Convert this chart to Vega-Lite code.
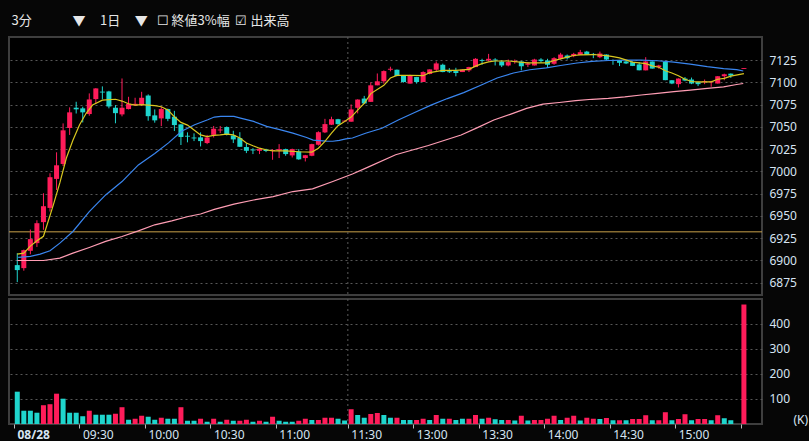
{
  "$schema": "https://vega.github.io/schema/vega-lite/v6.json",
  "background": "#060606",
  "padding": {"left": 7, "top": 14, "right": 0, "bottom": 0},
  "title": {
    "text": "3分\u00a0\u00a0\u00a0\u00a0\u00a0\u00a0\u00a0\u00a0\u00a0\u00a0\u00a0\u00a0\u00a0\u00a0▼\u00a0\u00a0\u00a0\u00a0\u00a01日\u00a0\u00a0\u00a0\u00a0\u00a0▼\u00a0\u00a0\u00a0☐ 終値3%幅\u00a0\u00a0☑ 出来高",
    "anchor": "start", "font": "Noto Sans CJK JP", "fontSize": 13, "fontWeight": "normal",
    "color": "#e6e6e6", "offset": 8, "dx": 4
  },
  "datasets": {
    "candles": [
      {"s":0,"o":6894.6,"h":6908,"l":6875.5,"c":6889,"v":129,"vd":"d"},
      {"s":1,"o":6891.2,"h":6912,"l":6888.3,"c":6911.4,"v":53,"vd":"d"},
      {"s":2,"o":6910.7,"h":6934.6,"l":6906.8,"c":6923.8,"v":53,"vd":"d"},
      {"s":3,"o":6919.3,"h":6945,"l":6915,"c":6941.7,"v":45,"vd":"d"},
      {"s":4,"o":6942.9,"h":6975.4,"l":6934.3,"c":6960.8,"v":75,"vd":"u"},
      {"s":5,"o":6958.9,"h":6997.8,"l":6954.8,"c":6993.4,"v":79,"vd":"u"},
      {"s":6,"o":6991.5,"h":7021.4,"l":6979,"c":7006.8,"v":121,"vd":"u"},
      {"s":7,"o":7008.3,"h":7053.9,"l":7006,"c":7046.1,"v":101,"vd":"d"},
      {"s":8,"o":7048.7,"h":7071.9,"l":7040.9,"c":7066.3,"v":45,"vd":"d"},
      {"s":9,"o":7071.5,"h":7078.2,"l":7065,"c":7069.7,"v":45,"vd":"d"},
      {"s":10,"o":7070.8,"h":7072.6,"l":7055,"c":7066.3,"v":31,"vd":"d"},
      {"s":11,"o":7064.4,"h":7087.6,"l":7062.5,"c":7080.8,"v":53,"vd":"u"},
      {"s":12,"o":7081.2,"h":7093.5,"l":7076,"c":7093.2,"v":37,"vd":"d"},
      {"s":13,"o":7089.6,"h":7095.5,"l":7081,"c":7088.6,"v":37,"vd":"d"},
      {"s":14,"o":7089.8,"h":7090.5,"l":7070.8,"c":7072.9,"v":37,"vd":"d"},
      {"s":15,"o":7071.5,"h":7074.5,"l":7054,"c":7065.4,"v":41,"vd":"u"},
      {"s":16,"o":7064,"h":7104.4,"l":7061.8,"c":7071.5,"v":67,"vd":"u"},
      {"s":17,"o":7070,"h":7083.8,"l":7069.6,"c":7075.9,"v":17,"vd":"d"},
      {"s":18,"o":7074.1,"h":7082.7,"l":7073.4,"c":7075.9,"v":21,"vd":"u"},
      {"s":19,"o":7074.5,"h":7089.4,"l":7073.4,"c":7082.7,"v":33,"vd":"u"},
      {"s":20,"o":7085.2,"h":7086.5,"l":7056.9,"c":7062,"v":29,"vd":"d"},
      {"s":21,"o":7062.9,"h":7069.6,"l":7054.7,"c":7057.3,"v":17,"vd":"d"},
      {"s":22,"o":7059.5,"h":7072.6,"l":7050.8,"c":7070,"v":25,"vd":"u"},
      {"s":23,"o":7070,"h":7070.5,"l":7056.4,"c":7059,"v":21,"vd":"d"},
      {"s":24,"o":7061.4,"h":7068,"l":7045.3,"c":7052,"v":21,"vd":"d"},
      {"s":25,"o":7052.8,"h":7053,"l":7029.6,"c":7038.6,"v":67,"vd":"u"},
      {"s":26,"o":7040,"h":7043.8,"l":7032.6,"c":7039,"v":13,"vd":"d"},
      {"s":27,"o":7038,"h":7042.7,"l":7034,"c":7037,"v":13,"vd":"d"},
      {"s":28,"o":7038.2,"h":7043.8,"l":7028,"c":7034,"v":21,"vd":"u"},
      {"s":29,"o":7031.8,"h":7041,"l":7030.6,"c":7038.1,"v":9,"vd":"d"},
      {"s":30,"o":7041,"h":7051,"l":7038,"c":7047.9,"v":21,"vd":"u"},
      {"s":31,"o":7046,"h":7051,"l":7043,"c":7047,"v":9,"vd":"d"},
      {"s":32,"o":7049.8,"h":7050.5,"l":7040.4,"c":7041.9,"v":17,"vd":"u"},
      {"s":33,"o":7040.4,"h":7045.6,"l":7031.8,"c":7035.9,"v":13,"vd":"d"},
      {"s":34,"o":7037.4,"h":7044,"l":7027.4,"c":7027.6,"v":13,"vd":"u"},
      {"s":35,"o":7027.3,"h":7031.8,"l":7020.5,"c":7023.1,"v":17,"vd":"u"},
      {"s":36,"o":7024.5,"h":7026,"l":7019.4,"c":7023.5,"v":9,"vd":"d"},
      {"s":37,"o":7023.1,"h":7026,"l":7019.4,"c":7025.4,"v":13,"vd":"u"},
      {"s":38,"o":7024.6,"h":7025.4,"l":7021.6,"c":7022.8,"v":9,"vd":"d"},
      {"s":39,"o":7023,"h":7025,"l":7013,"c":7024,"v":29,"vd":"u"},
      {"s":40,"o":7023.5,"h":7030.6,"l":7014.9,"c":7025,"v":13,"vd":"d"},
      {"s":41,"o":7025,"h":7025.5,"l":7017.5,"c":7019.4,"v":9,"vd":"d"},
      {"s":42,"o":7017.9,"h":7025.5,"l":7015.6,"c":7025,"v":9,"vd":"d"},
      {"s":43,"o":7022.4,"h":7025,"l":7013,"c":7013.5,"v":13,"vd":"u"},
      {"s":44,"o":7014.9,"h":7018.5,"l":7011.1,"c":7018.1,"v":21,"vd":"u"},
      {"s":45,"o":7017.5,"h":7031,"l":7017,"c":7030.6,"v":16,"vd":"d"},
      {"s":46,"o":7029.9,"h":7045,"l":7029,"c":7044,"v":16,"vd":"u"},
      {"s":47,"o":7043.8,"h":7059,"l":7043,"c":7053.1,"v":25,"vd":"u"},
      {"s":48,"o":7052.4,"h":7061.4,"l":7052,"c":7058.6,"v":25,"vd":"u"},
      {"s":49,"o":7058.6,"h":7059,"l":7052.4,"c":7053.1,"v":21,"vd":"d"},
      {"s":50,"o":7056,"h":7057,"l":7056,"c":7057,"v":14,"vd":"d"},
      {"s":51,"o":7055.8,"h":7075.2,"l":7055.8,"c":7069.6,"v":59,"vd":"u"},
      {"s":52,"o":7071.4,"h":7081,"l":7065.1,"c":7080.7,"v":36,"vd":"d"},
      {"s":53,"o":7081.8,"h":7084.8,"l":7076,"c":7076.3,"v":25,"vd":"d"},
      {"s":54,"o":7078.1,"h":7100,"l":7078,"c":7096.7,"v":40,"vd":"u"},
      {"s":55,"o":7096.7,"h":7110,"l":7096.7,"c":7101.2,"v":44,"vd":"u"},
      {"s":56,"o":7101.2,"h":7113.5,"l":7098.6,"c":7112.7,"v":36,"vd":"d"},
      {"s":57,"o":7114.2,"h":7117.6,"l":7112.4,"c":7115.3,"v":25,"vd":"d"},
      {"s":58,"o":7114.2,"h":7114.5,"l":7107,"c":7107.1,"v":25,"vd":"u"},
      {"s":59,"o":7107.9,"h":7108,"l":7099.7,"c":7100.4,"v":16,"vd":"d"},
      {"s":60,"o":7098.6,"h":7108.6,"l":7098.6,"c":7107.9,"v":16,"vd":"d"},
      {"s":61,"o":7106,"h":7106.2,"l":7098.6,"c":7100.4,"v":16,"vd":"u"},
      {"s":62,"o":7100.4,"h":7112.4,"l":7100.4,"c":7111.6,"v":21,"vd":"u"},
      {"s":63,"o":7109.4,"h":7114.6,"l":7109,"c":7114.6,"v":16,"vd":"d"},
      {"s":64,"o":7114.2,"h":7123.5,"l":7111.6,"c":7121.3,"v":36,"vd":"u"},
      {"s":65,"o":7119.8,"h":7121,"l":7111.4,"c":7111.6,"v":21,"vd":"d"},
      {"s":66,"o":7112.5,"h":7116,"l":7110.5,"c":7111.5,"v":21,"vd":"u"},
      {"s":67,"o":7112.7,"h":7116.4,"l":7106.8,"c":7110.5,"v":16,"vd":"d"},
      {"s":68,"o":7111.6,"h":7114.5,"l":7111.6,"c":7114.2,"v":21,"vd":"d"},
      {"s":69,"o":7113.5,"h":7117.5,"l":7111.6,"c":7117.2,"v":21,"vd":"u"},
      {"s":70,"o":7117.2,"h":7127.2,"l":7117.2,"c":7126.5,"v":36,"vd":"u"},
      {"s":71,"o":7125,"h":7126.5,"l":7119.8,"c":7124,"v":21,"vd":"d"},
      {"s":72,"o":7124.6,"h":7132,"l":7123.5,"c":7126.5,"v":25,"vd":"u"},
      {"s":73,"o":7125.7,"h":7127.2,"l":7119,"c":7124.6,"v":19,"vd":"d"},
      {"s":74,"o":7123.5,"h":7124.6,"l":7117.2,"c":7119,"v":16,"vd":"d"},
      {"s":75,"o":7119,"h":7125.7,"l":7118,"c":7122.8,"v":16,"vd":"u"},
      {"s":76,"o":7122.8,"h":7125.7,"l":7121,"c":7124.3,"v":14,"vd":"d"},
      {"s":77,"o":7123.5,"h":7123.8,"l":7113.5,"c":7118,"v":33,"vd":"u"},
      {"s":78,"o":7119.8,"h":7122.8,"l":7117.2,"c":7121.3,"v":14,"vd":"d"},
      {"s":79,"o":7119,"h":7126.5,"l":7119,"c":7125.7,"v":16,"vd":"u"},
      {"s":80,"o":7125.7,"h":7127.2,"l":7122,"c":7123.9,"v":16,"vd":"u"},
      {"s":81,"o":7124.6,"h":7126.5,"l":7117.2,"c":7119.8,"v":21,"vd":"u"},
      {"s":82,"o":7120.9,"h":7128.3,"l":7119.8,"c":7127.2,"v":33,"vd":"u"},
      {"s":83,"o":7126.5,"h":7133.2,"l":7125.7,"c":7131.3,"v":16,"vd":"d"},
      {"s":84,"o":7130.2,"h":7131.3,"l":7125.7,"c":7127.2,"v":25,"vd":"u"},
      {"s":85,"o":7129.5,"h":7133.2,"l":7128.3,"c":7132,"v":33,"vd":"u"},
      {"s":86,"o":7130.9,"h":7136.5,"l":7130.9,"c":7133.9,"v":14,"vd":"d"},
      {"s":87,"o":7134.6,"h":7135.4,"l":7130.9,"c":7131,"v":25,"vd":"u"},
      {"s":88,"o":7132,"h":7133.1,"l":7127.2,"c":7130.9,"v":21,"vd":"u"},
      {"s":89,"o":7128.3,"h":7134.6,"l":7127.2,"c":7132.4,"v":20,"vd":"d"},
      {"s":90,"o":7131.3,"h":7131.5,"l":7125,"c":7125.7,"v":24,"vd":"u"},
      {"s":91,"o":7125,"h":7125.7,"l":7119.8,"c":7124,"v":15,"vd":"d"},
      {"s":92,"o":7125,"h":7125.2,"l":7118.3,"c":7122,"v":15,"vd":"u"},
      {"s":93,"o":7123.5,"h":7124.3,"l":7120.6,"c":7121.3,"v":15,"vd":"d"},
      {"s":94,"o":7122.8,"h":7123.5,"l":7118.3,"c":7118.5,"v":20,"vd":"u"},
      {"s":95,"o":7120.2,"h":7122.8,"l":7113.5,"c":7113.6,"v":20,"vd":"u"},
      {"s":96,"o":7113.5,"h":7128.3,"l":7113.5,"c":7123.5,"v":35,"vd":"u"},
      {"s":97,"o":7123.5,"h":7123.6,"l":7115.4,"c":7115.5,"v":15,"vd":"d"},
      {"s":98,"o":7117.2,"h":7119.8,"l":7115.4,"c":7119,"v":15,"vd":"u"},
      {"s":99,"o":7123,"h":7124.5,"l":7102.4,"c":7102.5,"v":47,"vd":"u"},
      {"s":100,"o":7102.4,"h":7102.5,"l":7098,"c":7098.7,"v":15,"vd":"d"},
      {"s":101,"o":7098,"h":7104.5,"l":7094.3,"c":7104.3,"v":20,"vd":"u"},
      {"s":102,"o":7104.3,"h":7106,"l":7101.3,"c":7102,"v":39,"vd":"u"},
      {"s":103,"o":7103.2,"h":7105.4,"l":7098,"c":7098.7,"v":15,"vd":"d"},
      {"s":104,"o":7100.2,"h":7100.6,"l":7095.8,"c":7098,"v":20,"vd":"u"},
      {"s":105,"o":7100.2,"h":7103.2,"l":7098,"c":7101.3,"v":20,"vd":"u"},
      {"s":106,"o":7100,"h":7101.7,"l":7095,"c":7101,"v":15,"vd":"d"},
      {"s":107,"o":7098.7,"h":7107,"l":7098.7,"c":7106.9,"v":35,"vd":"u"},
      {"s":108,"o":7106.9,"h":7109.8,"l":7102.4,"c":7109.1,"v":23,"vd":"d"},
      {"s":109,"o":7109.8,"h":7110,"l":7105,"c":7107.6,"v":15,"vd":"d"},
      {"s":111,"o":7115,"h":7116,"l":7115,"c":7116,"v":477,"vd":"u"}
    ],
    "ma": [
      {"m":"p","s":0,"v":6899.8},{"m":"p","s":4,"v":6899.8},{"m":"p","s":6.5,"v":6902.5},{"m":"p","s":8.5,"v":6908},
      {"m":"p","s":11,"v":6914.4},{"m":"p","s":13.5,"v":6921.2},{"m":"p","s":16,"v":6926.8},{"m":"p","s":18.5,"v":6933.1},
      {"m":"p","s":21,"v":6939.9},{"m":"p","s":23.6,"v":6944.4},{"m":"p","s":26.1,"v":6949.2},{"m":"p","s":28,"v":6952},
      {"m":"p","s":30.1,"v":6957.2},{"m":"p","s":33.1,"v":6963.2},{"m":"p","s":36.1,"v":6967.8},{"m":"p","s":39.1,"v":6971.6},
      {"m":"p","s":42.1,"v":6977.3},{"m":"p","s":45.1,"v":6980.3},{"m":"p","s":48.2,"v":6988.6},{"m":"p","s":51.2,"v":6997},
      {"m":"p","s":53.5,"v":7004.5},{"m":"p","s":57.8,"v":7018.6},{"m":"p","s":62.8,"v":7029},{"m":"p","s":67.8,"v":7040.9},
      {"m":"p","s":70.3,"v":7049.1},{"m":"p","s":72.8,"v":7057.7},{"m":"p","s":75.3,"v":7064},{"m":"p","s":77.8,"v":7070.7},
      {"m":"p","s":80.3,"v":7075.5},{"m":"p","s":82.8,"v":7077.4},{"m":"p","s":85.3,"v":7079.4},{"m":"p","s":87.8,"v":7081},
      {"m":"p","s":90.3,"v":7082},{"m":"p","s":92.8,"v":7083.6},{"m":"p","s":95.3,"v":7085.8},{"m":"p","s":97.8,"v":7087.6},
      {"m":"p","s":100.3,"v":7089.5},{"m":"p","s":102.8,"v":7091.3},{"m":"p","s":105.4,"v":7093.2},{"m":"p","s":107.9,"v":7095},
      {"m":"p","s":109.9,"v":7097.6},{"m":"p","s":110.9,"v":7098.7},
      {"m":"b","s":0.15,"v":6903.2},{"m":"b","s":2,"v":6904.4},{"m":"b","s":3.5,"v":6907},{"m":"b","s":5,"v":6910.8},
      {"m":"b","s":6.5,"v":6919.3},{"m":"b","s":8.5,"v":6932.4},{"m":"b","s":11,"v":6954.8},{"m":"b","s":13.5,"v":6973.5},
      {"m":"b","s":16,"v":6988.5},{"m":"b","s":18.5,"v":7007.2},{"m":"b","s":21,"v":7020},{"m":"b","s":23.1,"v":7032},
      {"m":"b","s":25.1,"v":7045},{"m":"b","s":27.1,"v":7052.4},{"m":"b","s":29.1,"v":7058},{"m":"b","s":30.1,"v":7061},
      {"m":"b","s":31.1,"v":7061.8},{"m":"b","s":33.1,"v":7061.8},{"m":"b","s":34.1,"v":7059.9},{"m":"b","s":36.1,"v":7056.1},
      {"m":"b","s":38.1,"v":7050.5},{"m":"b","s":40.1,"v":7046.8},{"m":"b","s":42.1,"v":7043},{"m":"b","s":44.2,"v":7038.1},
      {"m":"b","s":45.2,"v":7035.1},{"m":"b","s":47.2,"v":7034},{"m":"b","s":48.2,"v":7033.8},{"m":"b","s":49.2,"v":7034.8},
      {"m":"b","s":50.2,"v":7036.5},{"m":"b","s":51.2,"v":7037.5},{"m":"b","s":53.2,"v":7042.8},{"m":"b","s":55.7,"v":7048.4},
      {"m":"b","s":58.2,"v":7057.7},{"m":"b","s":60.7,"v":7066.2},{"m":"b","s":63.2,"v":7074.4},{"m":"b","s":65.7,"v":7081.8},
      {"m":"b","s":68.2,"v":7088.5},{"m":"b","s":70.8,"v":7096.7},{"m":"b","s":73.3,"v":7104.9},{"m":"b","s":75.8,"v":7110.5},
      {"m":"b","s":78.3,"v":7114.2},{"m":"b","s":80.8,"v":7116.4},{"m":"b","s":83,"v":7119},{"m":"b","s":85.5,"v":7121.8},
      {"m":"b","s":87.8,"v":7123.5},{"m":"b","s":90.3,"v":7124.6},{"m":"b","s":92.8,"v":7125},{"m":"b","s":95.3,"v":7125},
      {"m":"b","s":97.8,"v":7124.3},{"m":"b","s":100.3,"v":7122.8},{"m":"b","s":102.8,"v":7120.6},{"m":"b","s":105.4,"v":7117.6},
      {"m":"b","s":107.9,"v":7115.4},{"m":"b","s":109.9,"v":7114.3},{"m":"b","s":110.9,"v":7112.8},
      {"m":"y","s":0,"v":6907},{"m":"y","s":1,"v":6908},{"m":"y","s":2,"v":6916},{"m":"y","s":3,"v":6922},
      {"m":"y","s":4,"v":6927},{"m":"y","s":5.5,"v":6962},{"m":"y","s":6.5,"v":6987},{"m":"y","s":7.5,"v":7015},
      {"m":"y","s":8.5,"v":7035},{"m":"y","s":9.5,"v":7052},{"m":"y","s":10.5,"v":7065},{"m":"y","s":11.5,"v":7074.5},
      {"m":"y","s":13,"v":7080},{"m":"y","s":15,"v":7081},{"m":"y","s":16,"v":7079},{"m":"y","s":17,"v":7076},
      {"m":"y","s":18,"v":7074.5},{"m":"y","s":19,"v":7075},{"m":"y","s":20,"v":7074.5},{"m":"y","s":21,"v":7073.8},
      {"m":"y","s":22,"v":7072.6},{"m":"y","s":23,"v":7069},{"m":"y","s":24,"v":7061.4},{"m":"y","s":25,"v":7055},
      {"m":"y","s":26,"v":7052},{"m":"y","s":27,"v":7046.5},{"m":"y","s":28,"v":7041},{"m":"y","s":29,"v":7039},
      {"m":"y","s":30,"v":7040.4},{"m":"y","s":31,"v":7041},{"m":"y","s":32,"v":7041.9},{"m":"y","s":33,"v":7041},
      {"m":"y","s":34,"v":7037.4},{"m":"y","s":35,"v":7031.8},{"m":"y","s":36,"v":7028.8},{"m":"y","s":37,"v":7026},
      {"m":"y","s":38,"v":7024.3},{"m":"y","s":39,"v":7023},{"m":"y","s":41,"v":7023},{"m":"y","s":43,"v":7022},
      {"m":"y","s":45,"v":7021.6},{"m":"y","s":46,"v":7026},{"m":"y","s":47,"v":7033.6},{"m":"y","s":48,"v":7043},
      {"m":"y","s":49,"v":7051.3},{"m":"y","s":50,"v":7056},{"m":"y","s":51,"v":7061},{"m":"y","s":52,"v":7068.8},
      {"m":"y","s":53,"v":7076.3},{"m":"y","s":54,"v":7087.4},{"m":"y","s":56,"v":7096.7},{"m":"y","s":57,"v":7104.9},
      {"m":"y","s":58,"v":7107.9},{"m":"y","s":60,"v":7107.9},{"m":"y","s":62,"v":7107.5},{"m":"y","s":63,"v":7111},
      {"m":"y","s":65,"v":7113.5},{"m":"y","s":67,"v":7113.5},{"m":"y","s":69,"v":7114.6},{"m":"y","s":70,"v":7118.3},
      {"m":"y","s":71,"v":7121},{"m":"y","s":72,"v":7123},{"m":"y","s":73,"v":7124},{"m":"y","s":75,"v":7124},
      {"m":"y","s":78,"v":7122},{"m":"y","s":81,"v":7122},{"m":"y","s":82,"v":7124.6},{"m":"y","s":83,"v":7126.5},
      {"m":"y","s":84,"v":7128.3},{"m":"y","s":85,"v":7130.2},{"m":"y","s":86,"v":7131},{"m":"y","s":88,"v":7131.3},
      {"m":"y","s":90,"v":7130},{"m":"y","s":91,"v":7129},{"m":"y","s":92,"v":7127.6},{"m":"y","s":94,"v":7122.8},
      {"m":"y","s":96,"v":7121},{"m":"y","s":97,"v":7118.5},{"m":"y","s":98,"v":7117},{"m":"y","s":99,"v":7113},
      {"m":"y","s":100,"v":7110.5},{"m":"y","s":101,"v":7107.5},{"m":"y","s":102,"v":7103.5},{"m":"y","s":103,"v":7101},
      {"m":"y","s":104,"v":7100.6},{"m":"y","s":106,"v":7100.6},{"m":"y","s":107,"v":7103.5},{"m":"y","s":108,"v":7104.5},
      {"m":"y","s":109,"v":7107},{"m":"y","s":111,"v":7109.8}
    ],
    "prev": [{"v": 6932}],
    "lunch": [{"s": 50.5}]
  },
  "spacing": 0,
  "resolve": {"scale": {"color": "independent"}},
  "vconcat": [
    {
      "width": 753,
      "height": 258,
      "layer": [
        {
          "data": {"name": "prev"},
          "mark": {"type": "rule", "color": "#c9a24a", "strokeWidth": 1},
          "encoding": {
            "y": {"field": "v", "type": "quantitative", "scale": {"domain": [6861, 7151], "nice": false, "zero": false},
              "axis": {"orient": "right", "values": [6875, 6900, 6925, 6950, 6975, 7000, 7025, 7050, 7075, 7100, 7125], "format": "d", "labelOverlap": false, "title": null}}
          }
        },
        {
          "data": {"name": "lunch"},
          "mark": {"type": "rule", "color": "#5a5a5a", "strokeDash": [2, 3]},
          "encoding": {
            "x": {"field": "s", "type": "quantitative", "scale": {"domain": [-0.5, 113], "nice": false, "zero": false}, "axis": null}
          }
        },
        {
          "data": {"name": "candles"},
          "mark": {"type": "rule", "strokeWidth": 1},
          "encoding": {
            "x": {"field": "s", "type": "quantitative", "axis": null},
            "y": {"field": "l", "type": "quantitative",
              "axis": {"orient": "right", "values": [6875, 6900, 6925, 6950, 6975, 7000, 7025, 7050, 7075, 7100, 7125], "format": "d", "labelOverlap": false, "title": null}},
            "y2": {"field": "h"},
            "color": {"condition": {"test": "datum.c >= datum.o", "value": "#ff1c5a"}, "value": "#1fd5cd"}
          }
        },
        {
          "data": {"name": "candles"},
          "mark": {"type": "bar", "size": 5},
          "encoding": {
            "x": {"field": "s", "type": "quantitative", "axis": null},
            "y": {"field": "o", "type": "quantitative",
              "axis": {"orient": "right", "values": [6875, 6900, 6925, 6950, 6975, 7000, 7025, 7050, 7075, 7100, 7125], "format": "d", "labelOverlap": false, "title": null}},
            "y2": {"field": "c"},
            "color": {"condition": {"test": "datum.c >= datum.o", "value": "#ff1c5a"}, "value": "#1fd5cd"}
          }
        },
        {
          "data": {"name": "ma"},
          "mark": {"type": "line", "strokeWidth": 1.2, "interpolate": "linear"},
          "encoding": {
            "x": {"field": "s", "type": "quantitative", "axis": null},
            "y": {"field": "v", "type": "quantitative",
              "axis": {"orient": "right", "values": [6875, 6900, 6925, 6950, 6975, 7000, 7025, 7050, 7075, 7100, 7125], "format": "d", "labelOverlap": false, "title": null}},
            "color": {"field": "m", "type": "nominal", "scale": {"domain": ["p", "b", "y"], "range": ["#ff9db4", "#3a86f0", "#d9c71f"]}, "legend": null}
          }
        }
      ]
    },
    {
      "width": 753,
      "height": 125,
      "layer": [
        {
          "data": {"name": "candles"},
          "mark": {"type": "bar", "size": 5},
          "encoding": {
            "x": {"field": "s", "type": "quantitative", "scale": {"domain": [-0.5, 113], "nice": false, "zero": false},
              "axis": {
                "values": [-0.5, 9.5, 19.5, 29.5, 39.5, 50.5, 60.5, 70.5, 80.5, 90.5, 100.5, 110.5],
                "labelExpr": "['08/28','09:30','10:00','10:30','11:00','11:30','13:00','13:30','14:00','14:30','15:00',''][indexof([-0.5,9.5,19.5,29.5,39.5,50.5,60.5,70.5,80.5,90.5,100.5,110.5], datum.value)]",
                "labelFontWeight": {"condition": {"test": "datum.value < 0", "value": "bold"}, "value": "normal"},
                "labelAlign": "left", "labelOffset": 3, "labelPadding": 1, "tickSize": 4, "tickColor": "#bbbbbb",
                "grid": false, "domain": false, "title": null, "labelFlush": false, "labelOverlap": false
              }},
            "y": {"field": "v", "type": "quantitative", "scale": {"domain": [0, 499], "nice": false},
              "axis": {
                "orient": "right", "values": [18, 100, 200, 300, 400], "title": null, "labelOverlap": false,
                "labelExpr": "datum.value == 18 ? '(K)' : datum.label",
                "labelPadding": {"condition": {"test": "datum.value == 18", "value": 31}, "value": 7},
                "gridOpacity": {"condition": {"test": "datum.value == 18", "value": 0}, "value": 1}
              }},
            "color": {"field": "vd", "type": "nominal", "scale": {"domain": ["u", "d"], "range": ["#ff1c5a", "#1fd5cd"]}, "legend": null}
          }
        },
        {
          "data": {"name": "lunch"},
          "mark": {"type": "rule", "color": "#5a5a5a", "strokeDash": [2, 3]},
          "encoding": {"x": {"field": "s", "type": "quantitative"}}
        }
      ]
    }
  ],
  "config": {
    "view": {"stroke": "#3e3e3e", "strokeWidth": 2, "fill": "#000000"},
    "axis": {
      "labelColor": "#d6e4f2", "labelFont": "Noto Sans", "labelFontSize": 12,
      "grid": true, "gridColor": "#575757", "gridDash": [2, 3], "gridWidth": 1,
      "domain": false, "ticks": false, "labelPadding": 7
    },
    "axisX": {"ticks": true, "grid": false}
  }
}
